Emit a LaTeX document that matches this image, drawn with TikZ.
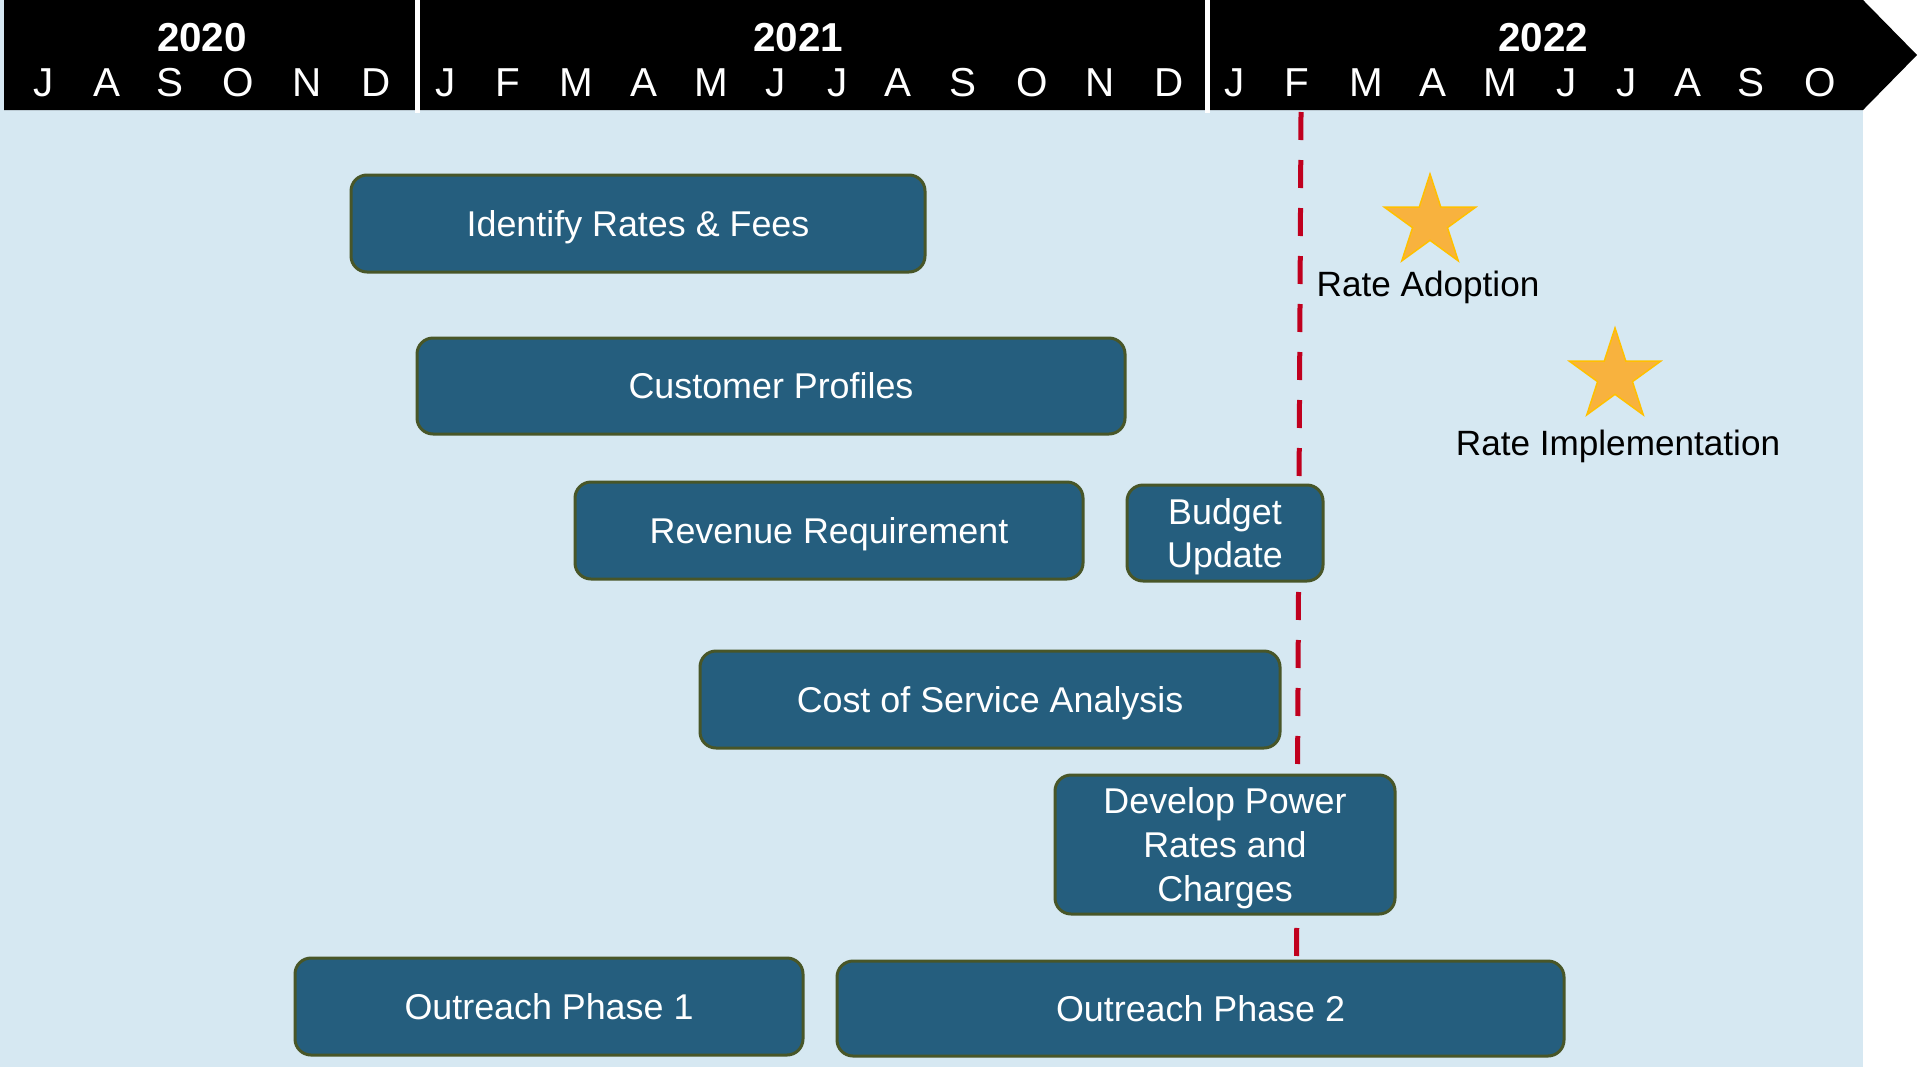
\documentclass[tikz,border=0pt]{standalone}
\usepackage{fontspec}
\setmainfont{Liberation Sans}
\usepackage{tikz}
\usetikzlibrary{shapes.geometric}
\definecolor{skyback}{RGB}{214,232,242}
\definecolor{barfill}{RGB}{37,94,126}
\definecolor{barborder}{RGB}{72,86,40}
\definecolor{cutred}{RGB}{192,0,30}
\definecolor{starfill}{RGB}{248,178,62}
\definecolor{staredge}{RGB}{255,192,0}

\begin{document}
\begin{tikzpicture}[x=0.1mm, y=-0.1mm]
  \tikzstyle{bar}=[rectangle,rounded corners=1.6mm,draw=barborder,line width=0.3mm,fill=barfill,text=white,align=center,inner sep=0pt,text depth=0pt,font=\fontsize{10.2}{12.5}\selectfont]
  \tikzstyle{yr}=[text=white,inner sep=0pt,font=\fontsize{11.5}{13}\selectfont\bfseries]
  \tikzstyle{mon}=[text=white,inner sep=0pt,font=\fontsize{11.5}{13}\selectfont]
  \tikzstyle{mile}=[star,star points=5,star point ratio=2.618,minimum size=9.6mm,inner sep=0pt,fill=starfill,draw=staredge,line width=0.15mm]
  \tikzstyle{lbl}=[inner sep=0pt,text depth=0pt,font=\fontsize{10}{12}\selectfont]
  \useasboundingbox (0,0) rectangle (1919,1067);

  % background and timeline arrow
  \fill[skyback] (0,0) rectangle (1863,1067);
  \fill[black] (4,0) -- (1863,0) -- (1917,55) -- (1863,110) -- (4,110) -- cycle;
  \draw[white,line width=0.5mm] (417,0) -- (417,113);
  \draw[white,line width=0.5mm] (1207,0) -- (1207,113);

  \node[yr] (y2020) at (202,38) {2020};
  \node[yr] (y2021) at (798,38) {2021};
  \node[yr] (y2022) at (1543,38) {2022};

  % month initials
  \foreach \m/\px [count=\i] in {J/44.1,A/106.5,S/170.1,O/238.7,N/307.2,D/375.7}
    \node[mon] (m20-\i) at (\px,83) {\m};
  \foreach \m/\px [count=\i] in {J/445.5,F/507.9,M/576.5,A/643.8,M/711.1,J/776,J/837.1,A/898.3,S/963.2,O/1031.7,N/1100.3,D/1168.8}
    \node[mon] (m21-\i) at (\px,83) {\m};
  \foreach \m/\px [count=\i] in {J/1234.9,F/1297.3,M/1365.9,A/1433.2,M/1500.5,J/1566.6,J/1626.6,A/1687.8,S/1751.4,O/1819.9}
    \node[mon] (m22-\i) at (\px,83) {\m};

  % today marker, behind the bars
  \coordinate (cuttop) at (1301,112);
  \coordinate (cutbot) at (1296,1067);
  \draw[cutred,line width=0.5mm,dash pattern=on 2.8mm off 2mm] (cuttop) -- (cutbot);

  % task bars
  \node[bar,minimum width=57.4mm,minimum height=9.7mm] (rates) at (638,223.5) {Identify Rates \& Fees};
  \node[bar,minimum width=70.8mm,minimum height=9.6mm] (profiles) at (771,386) {Customer Profiles};
  \node[bar,minimum width=50.8mm,minimum height=9.7mm] (revreq) at (829,530.5) {Revenue Requirement};
  \node[bar,minimum width=19.6mm,minimum height=9.6mm] (budget) at (1225,533) {Budget\\Update};
  \node[bar,minimum width=58mm,minimum height=9.7mm] (cos) at (990,699.5) {Cost of Service Analysis};
  \node[bar,minimum width=34mm,minimum height=13.9mm] (power) at (1225,844.5) {Develop Power\\Rates and\\Charges};
  \node[bar,minimum width=50.8mm,minimum height=9.7mm] (reach1) at (549,1006.5) {Outreach Phase 1};
  \node[bar,minimum width=72.7mm,minimum height=9.5mm] (reach2) at (1200.5,1008.5) {Outreach Phase 2};

  % milestones
  \node[mile] (adopt) at (1430,222) {};
  \node[lbl] (adoptlbl) at (1428,284) {Rate Adoption};
  \node[mile] (impl) at (1615,376) {};
  \node[lbl] (impllbl) at (1618,443) {Rate Implementation};
\end{tikzpicture}
\end{document}
